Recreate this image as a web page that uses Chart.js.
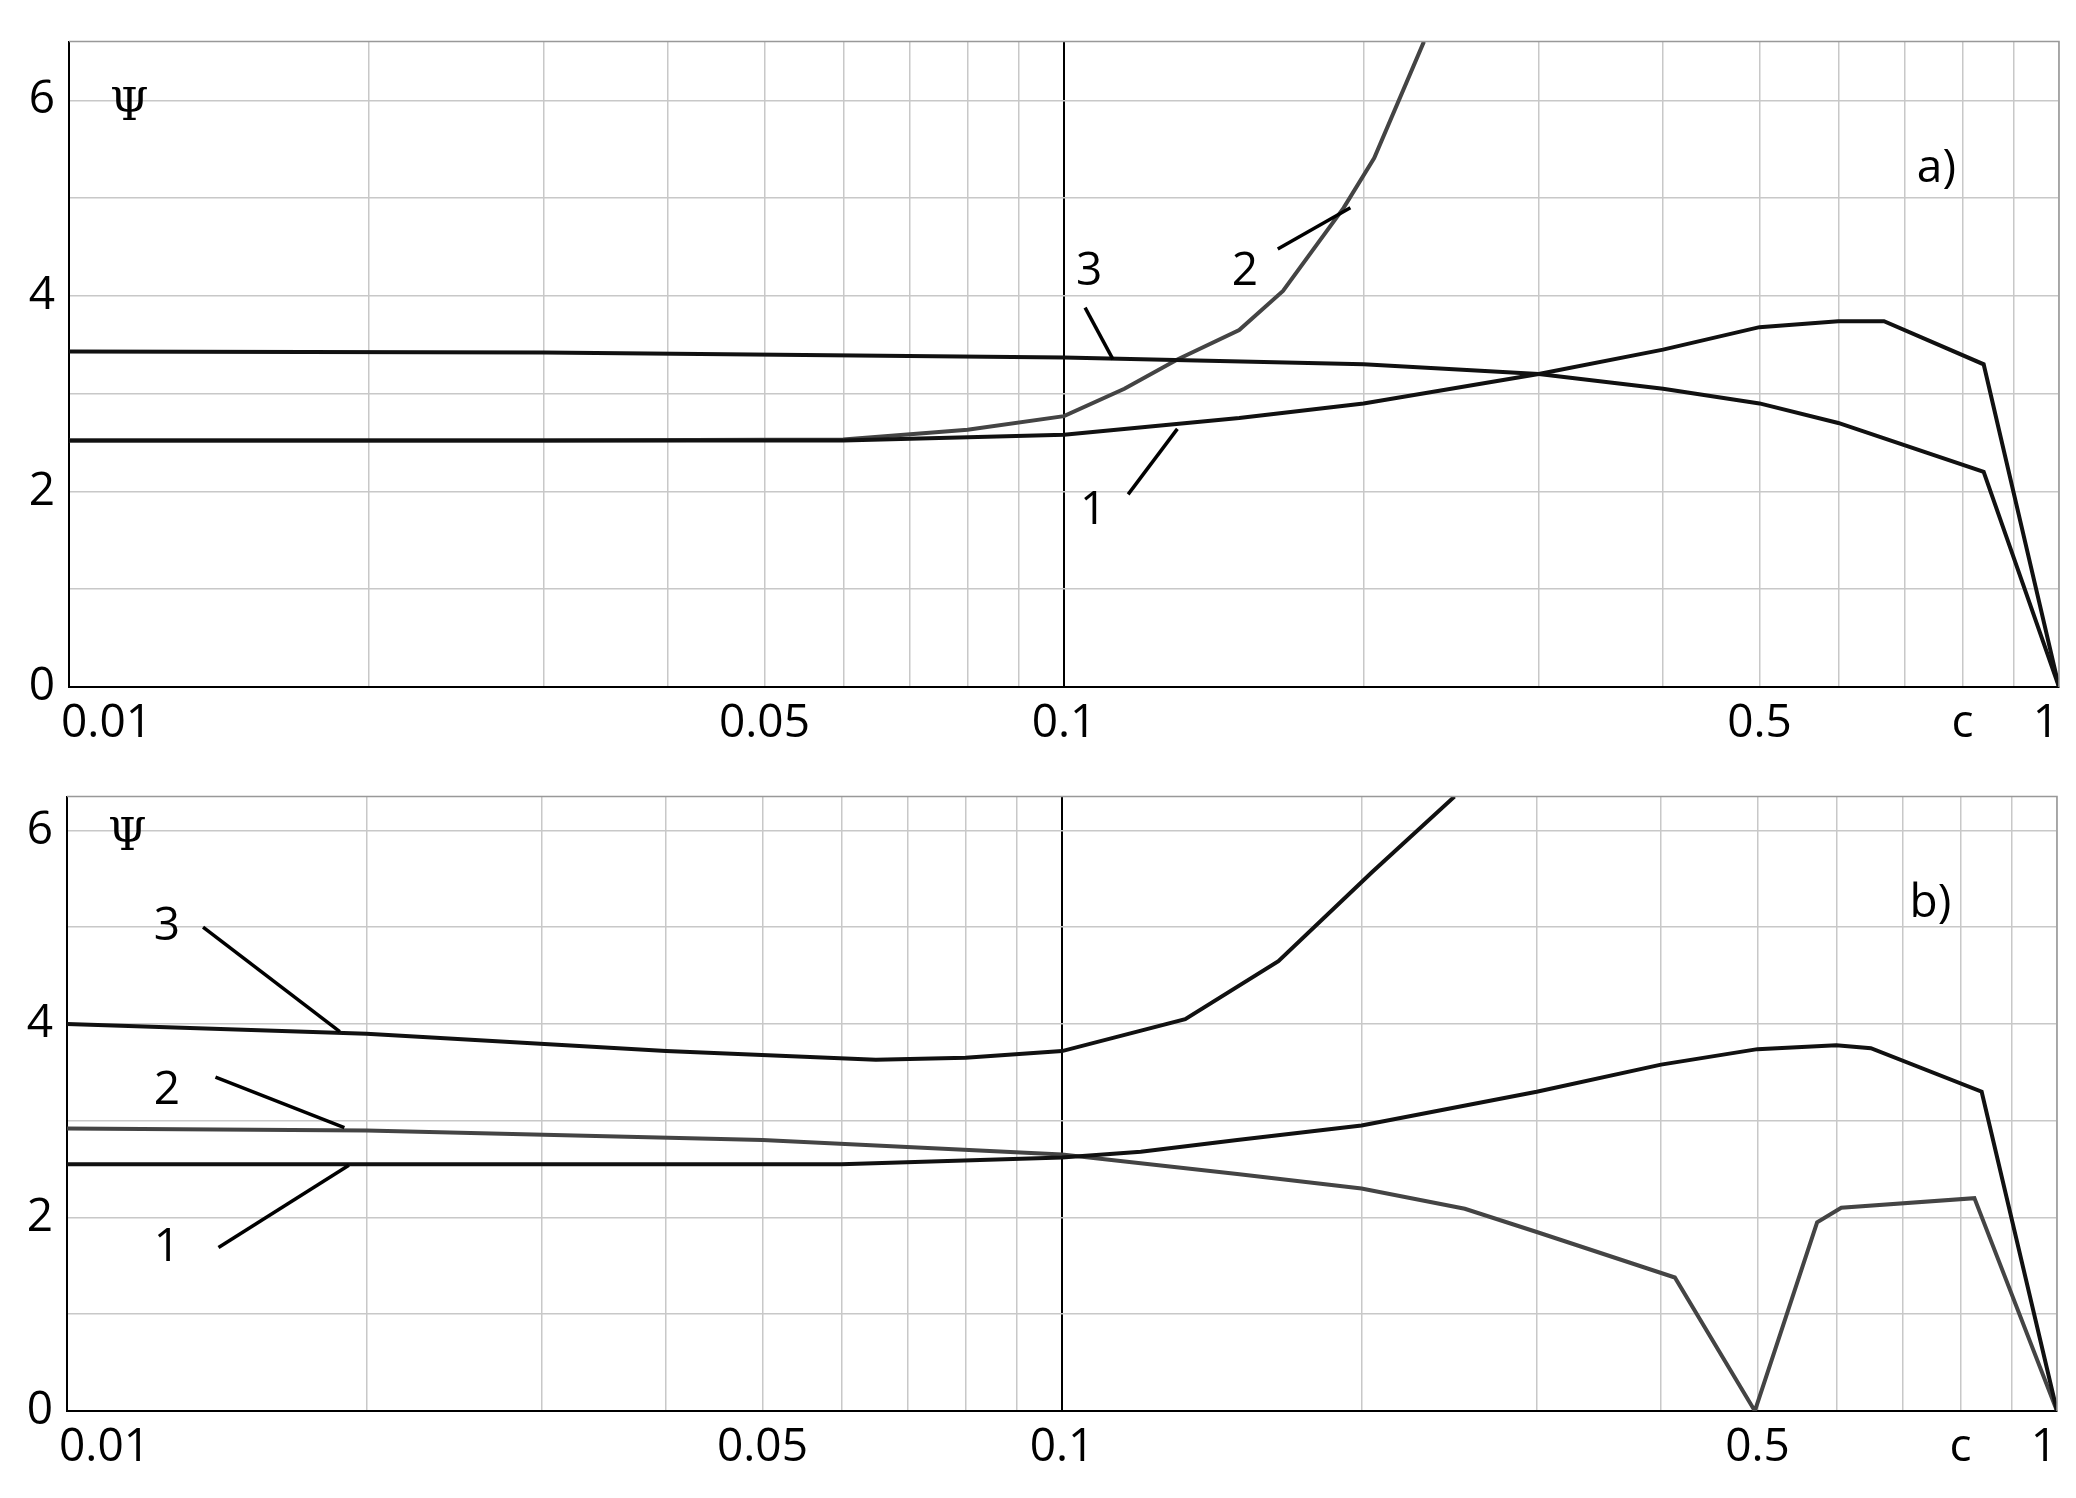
<!DOCTYPE html>
<html>
<head>
<meta charset="utf-8">
<script src="https://cdn.jsdelivr.net/npm/chart.js@4/dist/chart.umd.min.js"></script>
<style>
  body { margin: 0; background: #fff; }
  #wrapA { position: absolute; left: 0; top: 0; width: 2076px; height: 770px; }
  #wrapB { position: absolute; left: 0; top: 755px; width: 2076px; height: 743px; }
</style>
</head>
<body>
<div id="wrapA"><canvas id="chartA"></canvas></div>
<div id="wrapB"><canvas id="chartB"></canvas></div>
<script>
// panel a)
const a1x = [0.01, 0.03, 0.06, 0.1, 0.15, 0.2, 0.3, 0.4, 0.5, 0.6, 0.667, 0.84, 1];
const a1y = [2.52, 2.52, 2.52, 2.58, 2.75, 2.9, 3.2, 3.45, 3.68, 3.74, 3.74, 3.3, 0];
const a2x = [0.01, 0.03, 0.06, 0.08, 0.1, 0.115, 0.13, 0.15, 0.166, 0.191, 0.205, 0.23];
const a2y = [2.52, 2.52, 2.53, 2.63, 2.77, 3.05, 3.35, 3.65, 4.05, 4.9, 5.41, 6.6];
const a3x = [0.01, 0.03, 0.1, 0.2, 0.3, 0.4, 0.5, 0.6, 0.84, 1];
const a3y = [3.43, 3.42, 3.37, 3.3, 3.2, 3.05, 2.9, 2.7, 2.2, 0];
// panel b)
const b1x = [0.01, 0.03, 0.06, 0.1, 0.12, 0.15, 0.2, 0.3, 0.4, 0.5, 0.6, 0.65, 0.84, 1];
const b1y = [2.55, 2.55, 2.55, 2.62, 2.68, 2.8, 2.95, 3.3, 3.58, 3.74, 3.78, 3.75, 3.3, 0];
const b2x = [0.01, 0.02, 0.05, 0.1, 0.15, 0.2, 0.254, 0.3, 0.413, 0.497, 0.574, 0.607, 0.826, 1];
const b2y = [2.92, 2.9, 2.8, 2.65, 2.45, 2.3, 2.09, 1.85, 1.38, 0, 1.95, 2.1, 2.2, 0];
const b3x = [0.01, 0.02, 0.04, 0.065, 0.08, 0.1, 0.133, 0.165, 0.205, 0.248];
const b3y = [4.0, 3.9, 3.72, 3.63, 3.65, 3.72, 4.05, 4.65, 5.57, 6.35];

const gridTicks = [0.01,0.02,0.03,0.04,0.05,0.06,0.07,0.08,0.09,0.1,0.2,0.3,0.4,0.5,0.6,0.7,0.8,0.9,1];
const xLabels = [[0.01,'0.01'],[0.05,'0.05'],[0.1,'0.1'],[0.5,'0.5'],[0.8,'c'],[1,'1']];
const yTicks = [0,1,2,3,4,5,6];

const FONT = '"Open Sans", sans-serif';

function pts(xs, ys) { return xs.map((x, i) => ({x: x, y: ys[i]})); }

function makeChart(id, series, ymax, pad, texts, leaders) {
  const decor = {
    id: 'decor',
    afterDraw(chart) {
      const c = chart.ctx, xs = chart.scales.x, ys = chart.scales.y, ca = chart.chartArea;
      c.save();
      c.strokeStyle = '#999'; c.lineWidth = 1.5;
      c.beginPath(); c.moveTo(ca.left, ca.top); c.lineTo(ca.right, ca.top); c.lineTo(ca.right, ca.bottom); c.stroke();
      c.fillStyle = '#000'; c.font = '46px ' + FONT; c.textBaseline = 'top';
      for (const [v, t] of xLabels) {
        let px = xs.getPixelForValue(v);
        c.textAlign = v === 0.01 ? 'left' : (v === 1 ? 'right' : 'center');
        if (v === 0.01) px -= 8;
        c.fillText(t, px, ca.bottom + 14);
      }
      c.textAlign = 'center'; c.textBaseline = 'middle';
      for (const [x, y, t] of texts) {
        c.font = (t === 'Ψ' ? '44px "DejaVu Serif", serif' : '46px ' + FONT);
        c.fillText(t, xs.getPixelForValue(x), ys.getPixelForValue(y));
      }
      c.strokeStyle = '#000'; c.lineWidth = 3.5;
      for (const [x1, y1, x2, y2] of leaders) {
        c.beginPath();
        c.moveTo(xs.getPixelForValue(x1), ys.getPixelForValue(y1));
        c.lineTo(xs.getPixelForValue(x2), ys.getPixelForValue(y2));
        c.stroke();
      }
      c.restore();
    }
  };
  return new Chart(document.getElementById(id), {
    type: 'scatter',
    data: {
      datasets: series.map(s => ({
        data: pts(s[0], s[1]), showLine: true, borderColor: s[2], borderWidth: 4,
        pointRadius: 0, tension: 0, fill: false
      }))
    },
    options: {
      responsive: true, maintainAspectRatio: false, animation: false,
      layout: { padding: pad },
      plugins: { legend: { display: false }, tooltip: { enabled: false } },
      scales: {
        x: {
          type: 'logarithmic', min: 0.01, max: 1,
          afterBuildTicks: ax => { ax.ticks = gridTicks.map(v => ({value: v})); },
          afterFit: ax => { ax.height = pad.xh; },
          ticks: { display: false },
          grid: {
            color: ctx => (ctx.tick && ctx.tick.value === 0.1) ? '#000' : '#c8c8c8',
            lineWidth: ctx => (ctx.tick && ctx.tick.value === 0.1) ? 2 : 1.5,
            drawTicks: false
          },
          border: { color: '#000', width: 2 }
        },
        y: {
          min: 0, max: ymax,
          afterBuildTicks: ax => { ax.ticks = yTicks.map(v => ({value: v})); },
          afterFit: ax => { ax.width = pad.yw; },
          ticks: {
            color: '#000', font: { size: 46, family: FONT }, padding: 14,
            callback: v => (v % 2 === 0 ? String(v) : '')
          },
          grid: { color: '#c8c8c8', lineWidth: 1.5, drawTicks: false },
          border: { color: '#000', width: 2 }
        }
      }
    },
    plugins: [decor]
  });
}

makeChart('chartA',
  [[a1x, a1y, '#111'], [a3x, a3y, '#111'], [a2x, a2y, '#444']],
  6.6, { top: 17, right: 17, left: 0, bottom: 0, xh: 83, yw: 69 },
  [[0.0115, 5.92, 'Ψ'], [0.753, 5.3, 'a)'], [0.106, 4.25, '3'], [0.152, 4.25, '2'], [0.107, 1.8, '1']],
  [[0.105, 3.88, 0.112, 3.35], [0.164, 4.48, 0.194, 4.9], [0.116, 1.97, 0.130, 2.64]]
);

makeChart('chartB',
  [[b1x, b1y, '#111'], [b3x, b3y, '#111'], [b2x, b2y, '#444']],
  6.35, { top: 0, right: 19, left: 0, bottom: 0, xh: 87, yw: 67 },
  [[0.0115, 5.92, 'Ψ'], [0.746, 5.24, 'b)'], [0.0126, 5.0, '3'], [0.0126, 3.31, '2'], [0.0126, 1.69, '1']],
  [[0.0137, 5.0, 0.0188, 3.92], [0.0141, 3.45, 0.0190, 2.93], [0.0142, 1.69, 0.0192, 2.54]]
);
</script>
</body>
</html>
